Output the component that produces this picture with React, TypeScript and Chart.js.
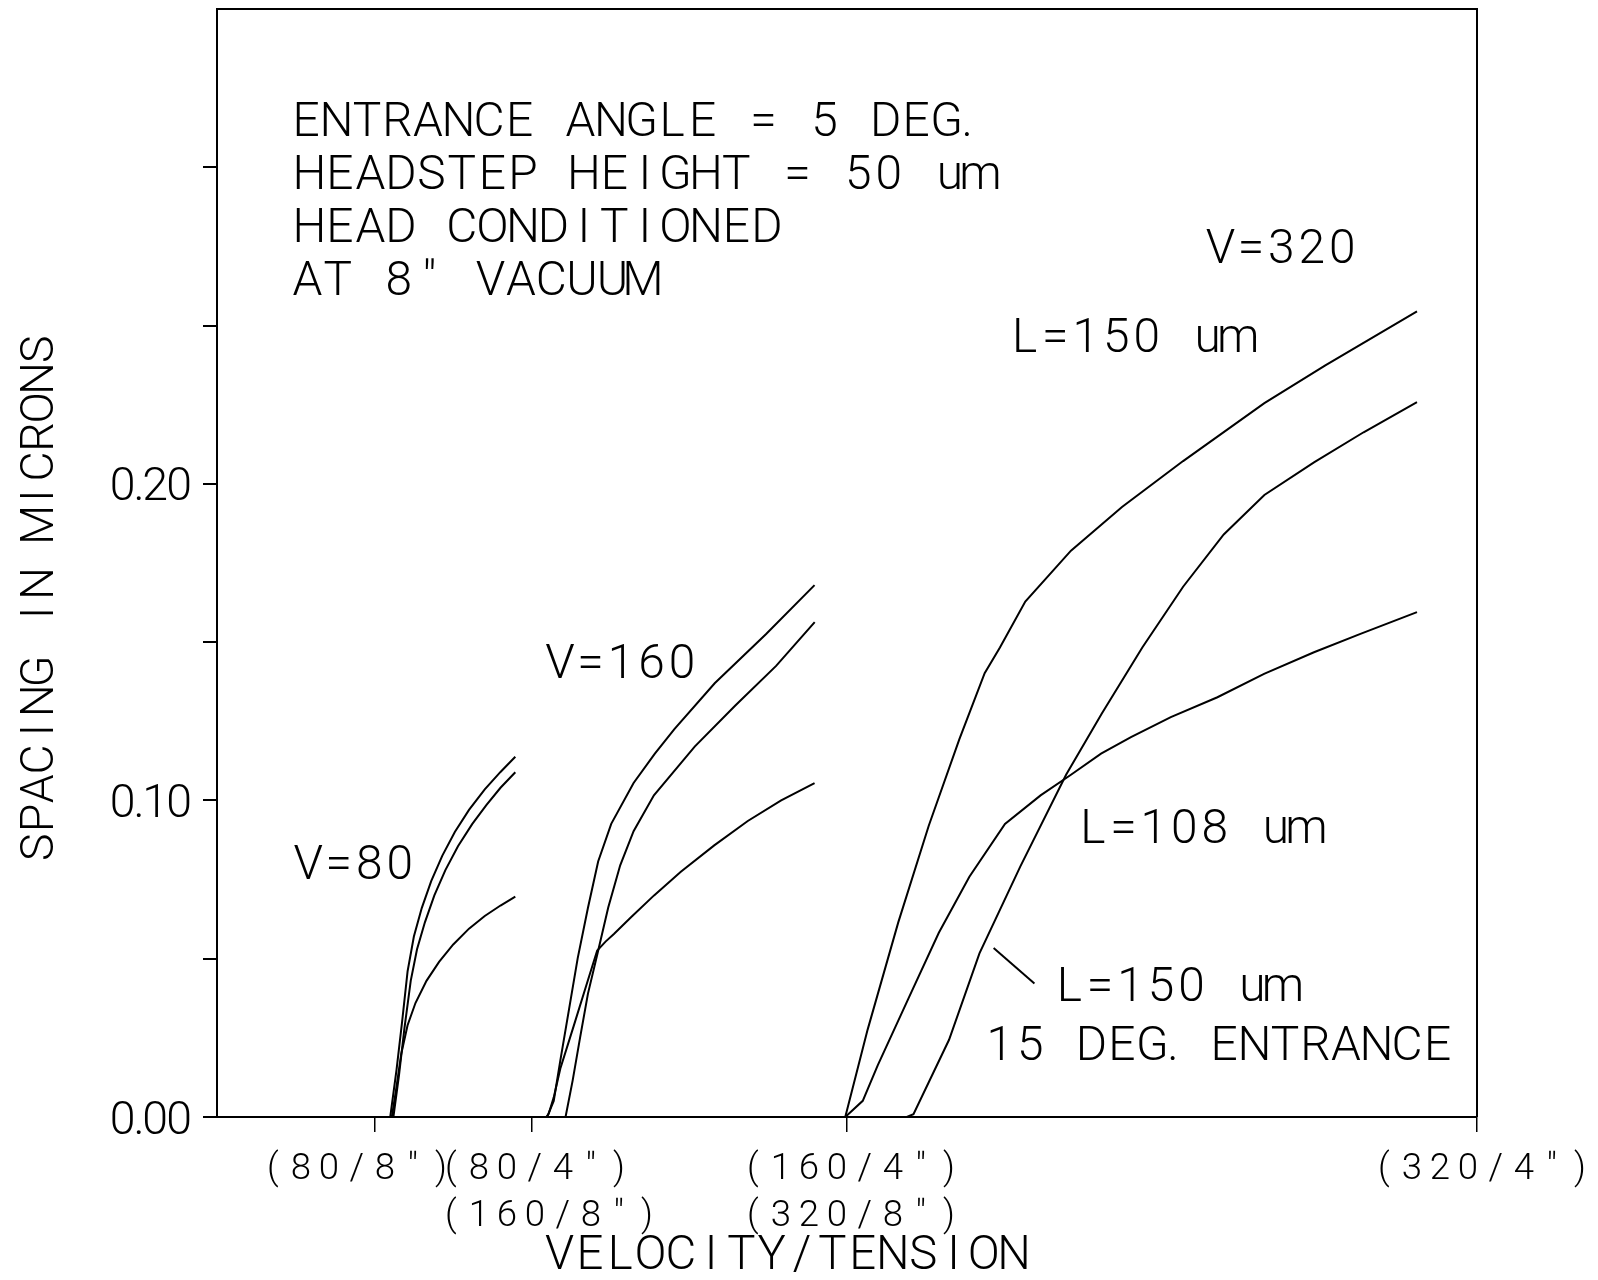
import { useEffect, useRef } from 'react';
import { Chart, registerables } from 'chart.js';

Chart.register(...registerables);

// ---------- data ----------
// V = 80 group
const v80aX = [11.0, 11.4, 11.75, 12.1, 12.5, 13.0, 13.6, 14.3, 15.1, 16.0, 17.0, 18.0, 18.94];
const v80aY = [0, 0.015, 0.03, 0.046, 0.057, 0.066, 0.0745, 0.0825, 0.09, 0.097, 0.1035, 0.109, 0.1138];
const v80bX = [11.2, 11.55, 11.9, 12.3, 12.7, 13.2, 13.8, 14.5, 15.3, 16.2, 17.1, 18.0, 18.94];
const v80bY = [0, 0.013, 0.028, 0.043, 0.053, 0.0615, 0.07, 0.078, 0.0855, 0.0925, 0.0985, 0.104, 0.1089];
const v80cX = [11.1, 11.35, 11.7, 12.1, 12.6, 13.3, 14.1, 15.0, 16.0, 17.0, 18.0, 18.94];
const v80cY = [0, 0.008, 0.02, 0.029, 0.036, 0.043, 0.049, 0.0545, 0.0595, 0.0635, 0.0668, 0.0696];

// V = 160 group
const v160aX = [20.96, 21.38, 21.8, 22.35, 22.9, 23.55, 24.2, 25.03, 26.45, 27.8, 29.04, 31.6, 34.85, 37.94];
const v160aY = [0, 0.0051, 0.0179, 0.034, 0.0501, 0.066, 0.0807, 0.0926, 0.1055, 0.1148, 0.1225, 0.137, 0.1525, 0.168];
const v160bX = [22.13, 22.58, 23.05, 23.55, 24.2, 24.84, 25.6, 26.45, 27.74, 30.33, 32.91, 35.5, 37.95];
const v160bY = [0, 0.0115, 0.025, 0.0389, 0.0525, 0.0662, 0.0795, 0.0903, 0.1016, 0.117, 0.13, 0.1425, 0.1563];
const v160cX = [20.9, 21.06, 21.38, 21.8, 22.65, 23.5, 24.14, 24.67, 25.2, 26.27, 27.75, 29.45, 31.57, 33.7, 35.82, 37.94];
const v160cY = [0, 0.001, 0.0062, 0.0153, 0.0288, 0.0424, 0.0526, 0.0554, 0.0578, 0.063, 0.07, 0.0775, 0.0858, 0.0935, 0.1, 0.1055];

// V = 320 group
const v320aX = [39.89, 41.31, 43.25, 45.19, 47.13, 48.74, 49.71, 51.32, 54.22, 57.46, 61.34, 66.5, 70.37, 76.19];
const v320aY = [0, 0.0276, 0.0614, 0.092, 0.1193, 0.1402, 0.1483, 0.1628, 0.1789, 0.1927, 0.2072, 0.2255, 0.2374, 0.2545];
const v320bX = [39.89, 43.8, 44.22, 46.48, 48.41, 51.0, 53.91, 56.17, 58.75, 61.34, 63.92, 66.5, 69.65, 72.8, 76.19];
const v320bY = [0, 0, 0.0009, 0.0244, 0.0517, 0.0791, 0.1081, 0.1274, 0.1483, 0.1675, 0.184, 0.1965, 0.2068, 0.2163, 0.2258];
const v320cX = [39.89, 41.0, 41.95, 43.89, 45.83, 47.77, 50.03, 52.29, 54.22, 56.13, 58.03, 60.56, 63.52, 66.48, 69.65, 72.6, 76.19];
const v320cY = [0, 0.0051, 0.0163, 0.0373, 0.0582, 0.0759, 0.0926, 0.1016, 0.1081, 0.1148, 0.12, 0.1263, 0.1326, 0.14, 0.1468, 0.1526, 0.1595];

const seriesX = [v80aX, v80bX, v80cX, v160aX, v160bX, v160cX, v320aX, v320bX, v320cX];
const seriesY = [v80aY, v80bY, v80cY, v160aY, v160bY, v160cY, v320aY, v320bY, v320cY];

// axes
const xMin = 0;
const xMax = 80;
const yMin = 0;
const yMax = 0.35;
const yTickValues = [0, 0.05, 0.1, 0.15, 0.2, 0.25, 0.3];
const yLabelValues = [0, 0.1, 0.2];
const xTickValues = [10, 20, 40, 80];
const xTickLines = [['(80/8")'], ['(80/4")', '(160/8")'], ['(160/4")', '(320/8")'], ['(320/4")']];
const xTitle = 'VELOCITY/TENSION';
const yTitle = 'SPACING IN MICRONS';

// annotation texts
const noteTexts = [
  'ENTRANCE ANGLE = 5 DEG.',
  'HEADSTEP HEIGHT = 50 um',
  'HEAD CONDITIONED',
  'AT 8" VACUUM',
  'V=320',
  'L=150 um',
  'V=160',
  'V=80',
  'L=108 um',
  'L=150 um',
  '15 DEG. ENTRANCE',
];

// ---------- layout / style ----------
const W = 1582;
const H = 1264;
const FAMILY = 'Roboto, "DejaVu Sans", sans-serif';
const WEIGHT = '300';
const CAP = 0.711;
const INK = '#000';

// anchors (data coordinates of left/baseline of each note)
const noteAnchors: [number, number][] = [
  [4.79, 0.31],
  [4.79, 0.2932],
  [4.79, 0.2764],
  [4.79, 0.2595],
  [62.77, 0.2698],
  [50.48, 0.2415],
  [20.84, 0.1388],
  [4.86, 0.0753],
  [54.81, 0.0866],
  [53.32, 0.0367],
  [48.86, 0.018],
];
const leader: [number, number, number, number] = [49.31, 0.0534, 51.9, 0.0422];
const xTickLabelShift = [-107.5, -87, -100, -99];

type Opt = { align?: 'left' | 'right'; cell: number; cap: number };

function drawCells(ctx: CanvasRenderingContext2D, text: string, x: number, y: number, o: Opt) {
  ctx.font = `${WEIGHT} ${(o.cap / CAP).toFixed(2)}px ${FAMILY}`;
  ctx.textAlign = 'left';
  ctx.textBaseline = 'alphabetic';
  ctx.fillStyle = INK;
  const chars = Array.from(text);
  const cw = chars.map((c) => (c === '.' ? o.cell * 0.35 : o.cell));
  const ws = chars.map((c) => ctx.measureText(c).width);
  const pos: number[] = [];
  let cx = 0;
  chars.forEach((_, i) => {
    pos.push(cx + (cw[i] - ws[i]) / 2);
    cx += cw[i];
  });
  const n = chars.length - 1;
  const start = pos[0];
  const end = pos[n] + ws[n];
  const shift = o.align === 'right' ? x - end : x - start;
  chars.forEach((c, i) => ctx.fillText(c, pos[i] + shift, y));
}

const textPlugin = {
  id: 'plotterText',
  afterDraw(chart: any) {
    const { ctx, chartArea: a, scales } = chart;
    const xs = scales.x;
    const ys = scales.y;
    ctx.save();
    // frame top & right
    ctx.strokeStyle = INK;
    ctx.lineWidth = 2;
    ctx.beginPath();
    ctx.moveTo(a.left, a.top);
    ctx.lineTo(a.right, a.top);
    ctx.lineTo(a.right, a.bottom);
    ctx.stroke();

    // y tick labels
    yLabelValues.forEach((v) => {
      const py = ys.getPixelForValue(v);
      drawCells(ctx, v.toFixed(2), a.left - 25, py + 16.5, { align: 'right', cell: 24, cap: 33 });
    });

    // x tick labels
    xTickValues.forEach((v, i) => {
      const px = xs.getPixelForValue(v) + xTickLabelShift[i];
      xTickLines[i].forEach((line, j) => {
        drawCells(ctx, line, px, a.bottom + 62 + j * 47, { cell: 28, cap: 26 });
      });
    });

    // axis titles
    drawCells(ctx, xTitle, a.left + 328, a.bottom + 152, { cell: 30.3, cap: 33.6 });
    ctx.save();
    ctx.translate(a.left - 164, a.bottom - 256);
    ctx.rotate(-Math.PI / 2);
    drawCells(ctx, yTitle, 0, 0, { cell: 29.3, cap: 33 });
    ctx.restore();

    // annotations
    noteTexts.forEach((t, i) => {
      const [dx, dy] = noteAnchors[i];
      drawCells(ctx, t, xs.getPixelForValue(dx), ys.getPixelForValue(dy), { cell: 30.5, cap: 34 });
    });

    // leader line
    ctx.beginPath();
    ctx.lineWidth = 2;
    ctx.moveTo(xs.getPixelForValue(leader[0]), ys.getPixelForValue(leader[1]));
    ctx.lineTo(xs.getPixelForValue(leader[2]), ys.getPixelForValue(leader[3]));
    ctx.stroke();
    ctx.restore();
  },
};

export default function App() {
  const ref = useRef<HTMLCanvasElement>(null);
  useEffect(() => {
    if (!ref.current) return;
    const datasets = seriesX.map((xsArr, i) => ({
      data: xsArr.map((x, k) => ({ x, y: seriesY[i][k] })),
      borderColor: INK,
      borderWidth: 2,
      pointRadius: 0,
      tension: 0,
      fill: false,
    }));
    const chart = new Chart(ref.current, {
      type: 'line',
      data: { datasets },
      plugins: [textPlugin],
      options: {
        animation: false,
        responsive: false,
        events: [],
        layout: { padding: { left: 0, top: 1, right: 113, bottom: 0 } },
        plugins: { legend: { display: false }, tooltip: { enabled: false } },
        scales: {
          x: {
            type: 'linear',
            min: xMin,
            max: xMax,
            afterBuildTicks: (s: any) => {
              s.ticks = xTickValues.map((value) => ({ value }));
            },
            afterFit: (s: any) => {
              s.height = 155;
            },
            ticks: { display: false },
            grid: { display: true, drawOnChartArea: false, drawTicks: true, tickLength: 15, color: INK, lineWidth: 1.5 },
            border: { display: true, color: INK, width: 2 },
          },
          y: {
            type: 'linear',
            min: yMin,
            max: yMax,
            afterBuildTicks: (s: any) => {
              s.ticks = yTickValues.map((value) => ({ value }));
            },
            afterFit: (s: any) => {
              s.width = 209;
            },
            ticks: { display: false },
            grid: { display: true, drawOnChartArea: false, drawTicks: true, tickLength: 14, color: INK, lineWidth: 2 },
            border: { display: true, color: INK, width: 2 },
          },
        },
      },
    } as any);
    return () => chart.destroy();
  }, []);
  return <canvas ref={ref} width={W} height={H} style={{ display: 'block' }} />;
}
